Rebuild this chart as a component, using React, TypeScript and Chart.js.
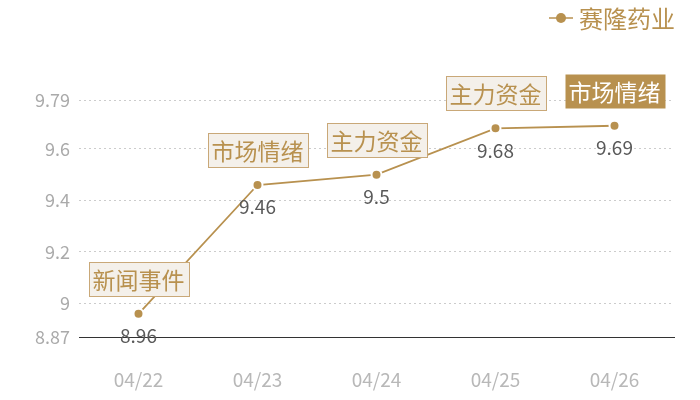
import React, { useEffect, useRef } from 'react';
import { Chart, registerables } from 'chart.js';

Chart.register(...registerables);

const dates = ['04/22', '04/23', '04/24', '04/25', '04/26'];
const prices = [8.96, 9.46, 9.5, 9.68, 9.69];
const tags = ['新闻事件', '市场情绪', '主力资金', '主力资金', '市场情绪'];
const highlightTag = 4;
const yTicks = [8.87, 9, 9.2, 9.4, 9.6, 9.79];
const seriesName = '赛隆药业';

const GOLD = '#b8914f';
const FONT = "'Noto Sans CJK SC', 'Noto Sans', sans-serif";

// draws the value labels, the tag boxes and the legend
const labelPlugin = {
  id: 'labels',
  afterDatasetsDraw(chart: Chart) {
    const ctx = chart.ctx;
    const meta = chart.getDatasetMeta(0);
    ctx.save();
    meta.data.forEach((pt: any, i: number) => {
      const x = pt.x;
      const y = pt.y;
      // value below point
      ctx.font = `19px ${FONT}`;
      ctx.fillStyle = '#595959';
      ctx.textAlign = 'center';
      ctx.textBaseline = 'middle';
      ctx.fillText(String(prices[i]), x, y + 22);

      // tag box above point
      ctx.font = `23px ${FONT}`;
      const w = ctx.measureText(tags[i]).width + 8;
      const h = 34;
      const bx = Math.round(x - w / 2) + 0.5;
      const by = Math.round(y - 18 - h) + 0.5;
      if (i === highlightTag) {
        ctx.fillStyle = GOLD;
        ctx.fillRect(bx, by, w, h);
        ctx.fillStyle = '#ffffff';
      } else {
        ctx.fillStyle = '#f4f0ea';
        ctx.fillRect(bx, by, w, h);
        ctx.strokeStyle = '#c9a878';
        ctx.lineWidth = 1;
        ctx.strokeRect(bx, by, w, h);
        ctx.fillStyle = GOLD;
      }
      ctx.fillText(tags[i], x, by + h / 2 + 1);
    });

    // legend, top right
    ctx.strokeStyle = GOLD;
    ctx.lineWidth = 1.5;
    ctx.beginPath();
    ctx.moveTo(549, 18);
    ctx.lineTo(573, 18);
    ctx.stroke();
    ctx.fillStyle = GOLD;
    ctx.beginPath();
    ctx.arc(561, 18, 5, 0, Math.PI * 2);
    ctx.fill();
    ctx.font = `24px ${FONT}`;
    ctx.textAlign = 'left';
    ctx.textBaseline = 'middle';
    ctx.fillText(seriesName, 579, 19);
    ctx.restore();
  },
};

const App: React.FC = () => {
  const canvasRef = useRef<HTMLCanvasElement>(null);

  useEffect(() => {
    if (!canvasRef.current) return;
    const existing = Chart.getChart(canvasRef.current);
    if (existing) existing.destroy();

    const chart = new Chart(canvasRef.current, {
      type: 'line',
      data: {
        labels: dates,
        datasets: [
          {
            label: seriesName,
            data: prices,
            borderColor: GOLD,
            borderWidth: 1.8,
            pointRadius: 5,
            pointBorderWidth: 2,
            pointBorderColor: '#ffffff',
            pointBackgroundColor: GOLD,
            tension: 0,
          },
        ],
      },
      options: {
        animation: false,
        responsive: true,
        maintainAspectRatio: false,
        layout: { padding: { top: 100, right: 26, left: 0, bottom: 0 } },
        plugins: {
          legend: { display: false },
          tooltip: { enabled: false },
        },
        scales: {
          x: {
            offset: true,
            grid: { display: false },
            border: { display: true, color: '#333333', width: 1 },
            ticks: {
              color: '#b8b8b8',
              font: { size: 19, family: FONT },
              padding: 23,
            },
            afterFit: (scale: any) => {
              scale.height = 63;
            },
          },
          y: {
            min: 8.87,
            max: 9.79,
            afterBuildTicks: (scale: any) => {
              scale.ticks = yTicks.map((v) => ({ value: v }));
            },
            afterFit: (scale: any) => {
              scale.width = 79;
            },
            border: { display: false, dash: [2, 3] },
            grid: {
              drawTicks: false,
              color: (c: any) => (c.tick && c.tick.value === 8.87 ? 'rgba(0,0,0,0)' : '#cccccc'),
              lineWidth: 1,
            },
            ticks: {
              color: '#aaaaaa',
              font: { size: 18, family: FONT },
              padding: 9,
              callback: (v: any) => String(v),
            },
          },
        },
      },
      plugins: [labelPlugin],
    });

    return () => {
      chart.destroy();
    };
  }, []);

  return (
    <div style={{ position: 'fixed', left: 0, top: 0, width: 700, height: 400, background: '#fff' }}>
      <canvas ref={canvasRef} />
    </div>
  );
};

export default App;
